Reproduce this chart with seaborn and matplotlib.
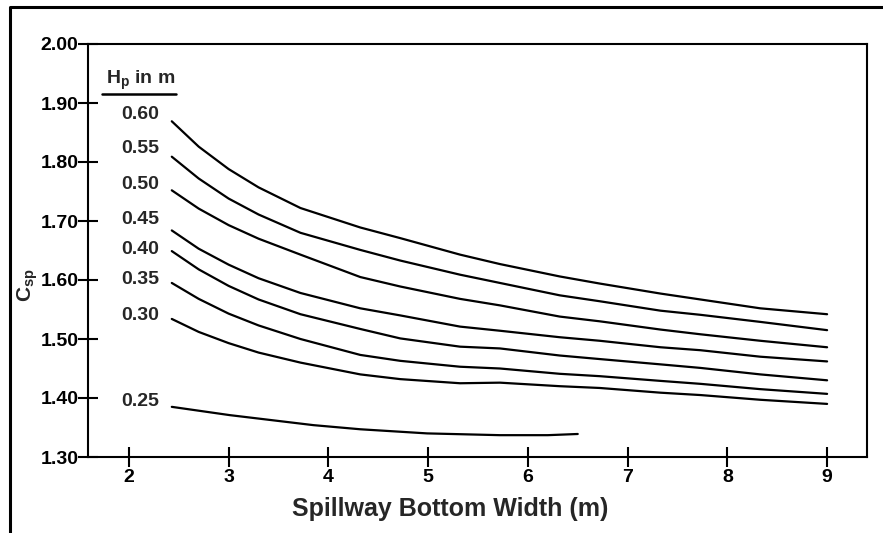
import numpy as np
import pandas as pd
import matplotlib
matplotlib.use("Agg")
import matplotlib.pyplot as plt
from matplotlib.lines import Line2D
import seaborn as sns

# head values (m) and curves
heads = ["0.60", "0.55", "0.50", "0.45", "0.40", "0.35", "0.30", "0.25"]

width = [2.43, 2.7, 3.0, 3.3, 3.72, 4.32, 4.72, 5.32, 5.72, 6.32, 6.72, 7.33, 7.73, 8.33, 9.0]
width_025 = [2.43, 3.01, 3.85, 4.32, 4.99, 5.72, 6.2, 6.5]

csp_060 = [1.869, 1.826, 1.788, 1.757, 1.722, 1.689, 1.671, 1.643, 1.627, 1.606, 1.594, 1.577, 1.567, 1.552, 1.542]
csp_055 = [1.809, 1.772, 1.738, 1.711, 1.680, 1.651, 1.633, 1.609, 1.595, 1.574, 1.564, 1.548, 1.541, 1.529, 1.515]
csp_050 = [1.752, 1.721, 1.693, 1.670, 1.643, 1.605, 1.589, 1.568, 1.557, 1.538, 1.530, 1.516, 1.508, 1.497, 1.486]
csp_045 = [1.684, 1.653, 1.626, 1.603, 1.578, 1.552, 1.540, 1.521, 1.514, 1.503, 1.497, 1.486, 1.481, 1.470, 1.462]
csp_040 = [1.649, 1.618, 1.590, 1.567, 1.542, 1.517, 1.501, 1.487, 1.484, 1.472, 1.466, 1.457, 1.451, 1.440, 1.430]
csp_035 = [1.595, 1.568, 1.543, 1.523, 1.500, 1.473, 1.463, 1.453, 1.450, 1.441, 1.437, 1.429, 1.424, 1.415, 1.407]
csp_030 = [1.534, 1.512, 1.493, 1.477, 1.460, 1.440, 1.432, 1.425, 1.426, 1.420, 1.417, 1.409, 1.405, 1.397, 1.390]
csp_025 = [1.385, 1.371, 1.354, 1.347, 1.340, 1.337, 1.337, 1.339]

# pixel nudges of the curve labels relative to curve start
label_dy = [7, 8, 6, 11, 2, 3, 3, 5]

curves = [csp_060, csp_055, csp_050, csp_045, csp_040, csp_035, csp_030, csp_025]
rows = []
for h, c in zip(heads, curves):
    xs = width_025 if h == "0.25" else width
    for x, y in zip(xs, c):
        rows.append([h, x, y])
df = pd.DataFrame(rows, columns=["Hp", "width", "csp"])

sns.set_style("ticks")
plt.rcParams["font.family"] = ["Liberation Sans", "DejaVu Sans"]
plt.rcParams["font.weight"] = "bold"
plt.rcParams["mathtext.fontset"] = "custom"
plt.rcParams["mathtext.rm"] = "Liberation Sans:bold"
plt.rcParams["mathtext.it"] = "Liberation Sans:bold"
plt.rcParams["mathtext.bf"] = "Liberation Sans:bold"

fig = plt.figure(figsize=(8.83, 5.33), dpi=100)
ax = fig.add_axes([88 / 883, 1 - 457 / 533, (867 - 88) / 883, (457 - 44) / 533])

sns.lineplot(data=df, x="width", y="csp", hue="Hp", palette=["black"] * len(heads),
             linewidth=1.6, legend=False, ax=ax, sort=False, estimator=None)

ax.set_xlim(1.59, 9.40)
ax.set_ylim(1.30, 2.00)
ax.set_xticks(range(2, 10))
ax.set_yticks(np.arange(1.30, 2.001, 0.10))
ax.set_yticklabels([f"{v:.2f}" for v in np.arange(1.30, 2.001, 0.10)])
ax.tick_params(direction="inout", length=14, width=1.5, labelsize=14, colors="black")
ax.tick_params(axis="y", pad=0)
ax.tick_params(axis="x", pad=2)
for s in ax.spines.values():
    s.set_linewidth(1.5)
    s.set_color("black")

ax.set_xlabel("Spillway Bottom Width (m)", fontsize=18, fontweight="bold")
ax.xaxis.set_label_coords((450 - 88) / 779, -0.097)
ax.set_ylabel("C$_{sp}$", fontsize=15, fontweight="bold")
ax.yaxis.set_label_coords(-0.061, 0.415)

for h, c, dy in zip(heads, curves, label_dy):
    ax.annotate(h, xy=(width[0], c[0]), xytext=(-9, dy * 0.72), textcoords="offset points",
                ha="right", va="center", fontsize=14, fontweight="bold")

ax.text(141 / 883, 1 - 80 / 533, "H$_p$ in m", transform=fig.transFigure,
        ha="center", va="center", fontsize=14, fontweight="bold")
fig.add_artist(Line2D([102 / 883, 176 / 883], [1 - 94 / 533, 1 - 94 / 533],
                      color="black", linewidth=1.8, transform=fig.transFigure))

# outer frame (left and top edges of the scanned page)
fig.add_artist(Line2D([10 / 883, 10 / 883, 1.0], [0.0, 1 - 7 / 533, 1 - 7 / 533],
                      color="black", linewidth=2.2, transform=fig.transFigure))

fig.savefig("out.png", dpi=100)
